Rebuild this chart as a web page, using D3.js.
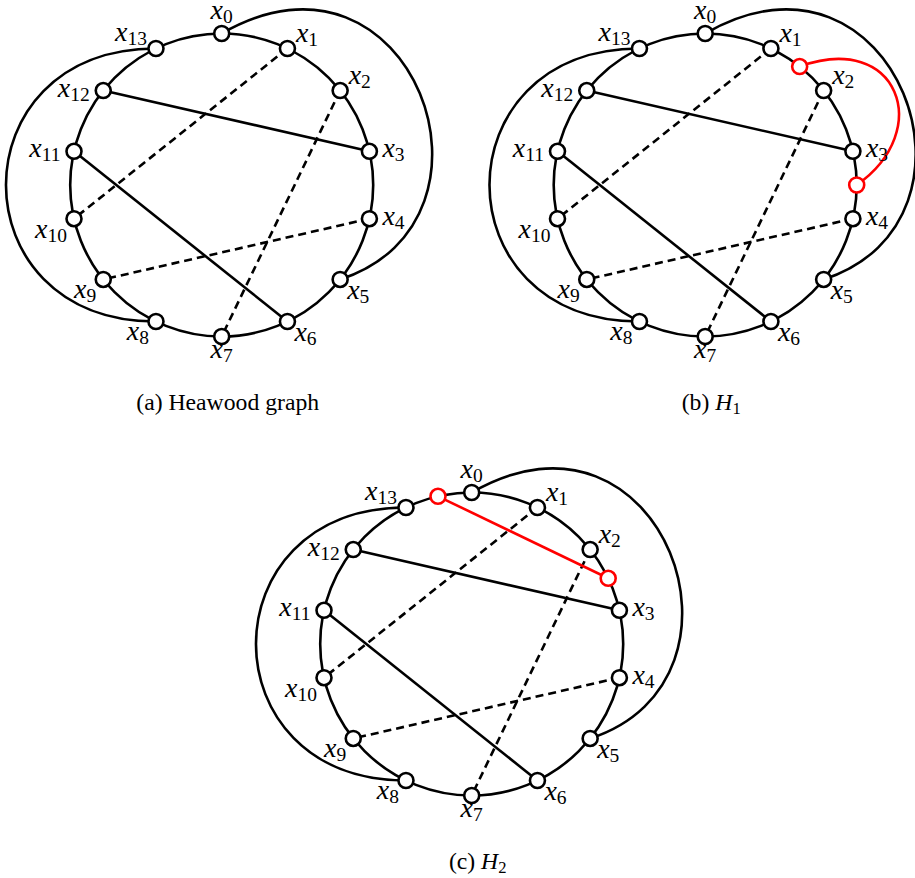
<!DOCTYPE html>
<html>
<head>
<meta charset="utf-8">
<script src="https://cdn.jsdelivr.net/npm/d3@7"></script>
<style>
  body { margin: 0; background: #fff; }
  svg { display: block; }
  text { font-family: "Liberation Serif", "Times New Roman", serif; }
</style>
</head>
<body>
<div id="chart"></div>
<script>
// graph data
var nodeNames = ["x0", "x1", "x2", "x3", "x4", "x5", "x6",
                 "x7", "x8", "x9", "x10", "x11", "x12", "x13"];
var labelSides = ["above", "above right", "above right", "right", "right",
                  "below right", "below right", "below", "below left",
                  "below left", "below left", "left", "left", "above left"];
var solidChords = [[12, 3], [11, 6]];
var dashedChords = [[1, 10], [2, 7], [4, 9]];
var outerEdges = [[0, 5], [13, 8]];

// one entry per panel
var captionPrefix = ["(a) ", "(b) ", "(c) "];
var captionMain = ["Heawood graph", "H", "H"];
var captionSub = ["", "1", "2"];
var extraNodes = [[], [1.5, 3.5], [13.5, 2.5]];
var extraCurved = [false, true, false];

var width = 915,
    height = 878;

var svg = d3.select("#chart").append("svg")
    .attr("width", width)
    .attr("height", height);

var centers = [[221.7, 185], [705.2, 185], [471.7, 644]],
    radius = 151.5,
    nodeR = 7.5,
    lineW = 2.6;

// node index -> angle in degrees, clockwise from the top
var angle = d3.scaleLinear()
    .domain([0, nodeNames.length])
    .range([-90, 270]);

// how the two outer edges and the red edge of H1 bend (tikz style out/in)
var bend = {
    "0-5": {out: 30, outLen: 1.45, "in": 18, inLen: 1.25},
    "13-8": {out: 180, outLen: 1.32, "in": 180, inLen: 1.32},
    red: {out: 20, outLen: 0.69, "in": 35, inLen: 0.63}
};

var anchorStyle = {
    "above":       {anchor: "middle", dx: 0, dy: -14.5},
    "above right": {anchor: "start", dx: 8.5, dy: -6.5},
    "right":       {anchor: "start", dx: 13, dy: 6},
    "below right": {anchor: "start", dx: 7, dy: 19.5},
    "below":       {anchor: "middle", dx: 0, dy: 21},
    "below left":  {anchor: "end", dx: -7, dy: 19},
    "left":        {anchor: "end", dx: -13.5, dy: 6},
    "above left":  {anchor: "end", dx: -9, dy: -8}
};

function rad(deg) { return deg * Math.PI / 180; }

function bentPath(p0, p3, b) {
    var c1 = [p0[0] + b.outLen * radius * Math.cos(rad(b.out)),
              p0[1] - b.outLen * radius * Math.sin(rad(b.out))],
        c2 = [p3[0] + b.inLen * radius * Math.cos(rad(b["in"])),
              p3[1] - b.inLen * radius * Math.sin(rad(b["in"]))];
    var p = d3.path();
    p.moveTo(p0[0], p0[1]);
    p.bezierCurveTo(c1[0], c1[1], c2[0], c2[1], p3[0], p3[1]);
    return p.toString();
}

centers.forEach(function(c, k) {
    var g = svg.append("g").attr("class", "panel");

    function pos(i) {
        var a = rad(angle(i));
        return [c[0] + radius * Math.cos(a), c[1] + radius * Math.sin(a)];
    }

    // outer edges
    g.selectAll("path.outer")
        .data(outerEdges)
        .enter().append("path")
        .attr("class", "outer")
        .attr("d", function(d) { return bentPath(pos(d[0]), pos(d[1]), bend[d[0] + "-" + d[1]]); })
        .attr("fill", "none")
        .attr("stroke", "#000")
        .attr("stroke-width", lineW);

    // chords
    g.selectAll("line.solid")
        .data(solidChords)
        .enter().append("line")
        .attr("class", "solid")
        .attr("x1", function(d) { return pos(d[0])[0]; })
        .attr("y1", function(d) { return pos(d[0])[1]; })
        .attr("x2", function(d) { return pos(d[1])[0]; })
        .attr("y2", function(d) { return pos(d[1])[1]; })
        .attr("stroke", "#000")
        .attr("stroke-width", lineW);

    g.selectAll("line.dashed")
        .data(dashedChords)
        .enter().append("line")
        .attr("class", "dashed")
        .attr("x1", function(d) { return pos(d[0])[0]; })
        .attr("y1", function(d) { return pos(d[0])[1]; })
        .attr("x2", function(d) { return pos(d[1])[0]; })
        .attr("y2", function(d) { return pos(d[1])[1]; })
        .attr("stroke", "#000")
        .attr("stroke-width", lineW)
        .attr("stroke-dasharray", "8,5");

    // the 14-cycle
    g.append("circle")
        .attr("cx", c[0])
        .attr("cy", c[1])
        .attr("r", radius)
        .attr("fill", "none")
        .attr("stroke", "#000")
        .attr("stroke-width", lineW);

    // red edge of H1 / H2
    var extra = extraNodes[k];
    if (extra.length === 2) {
        var p0 = pos(extra[0]),
            p1 = pos(extra[1]);
        if (extraCurved[k]) {
            g.append("path")
                .attr("d", bentPath(p0, p1, bend.red))
                .attr("fill", "none")
                .attr("stroke", "red")
                .attr("stroke-width", lineW);
        } else {
            g.append("line")
                .attr("x1", p0[0]).attr("y1", p0[1])
                .attr("x2", p1[0]).attr("y2", p1[1])
                .attr("stroke", "red")
                .attr("stroke-width", lineW);
        }
    }

    // vertices
    g.selectAll("circle.node")
        .data(nodeNames)
        .enter().append("circle")
        .attr("class", "node")
        .attr("cx", function(d, i) { return pos(i)[0]; })
        .attr("cy", function(d, i) { return pos(i)[1]; })
        .attr("r", nodeR)
        .attr("fill", "#fff")
        .attr("stroke", "#000")
        .attr("stroke-width", lineW);

    g.selectAll("circle.red")
        .data(extra)
        .enter().append("circle")
        .attr("class", "red")
        .attr("cx", function(d) { return pos(d)[0]; })
        .attr("cy", function(d) { return pos(d)[1]; })
        .attr("r", nodeR)
        .attr("fill", "#fff")
        .attr("stroke", "red")
        .attr("stroke-width", lineW);

    // vertex labels
    var label = g.selectAll("text.label")
        .data(nodeNames)
        .enter().append("text")
        .attr("class", "label")
        .attr("x", function(d, i) { return pos(i)[0] + anchorStyle[labelSides[i]].dx; })
        .attr("y", function(d, i) { return pos(i)[1] + anchorStyle[labelSides[i]].dy; })
        .attr("text-anchor", function(d, i) { return anchorStyle[labelSides[i]].anchor; })
        .attr("font-size", 28);

    label.append("tspan")
        .attr("font-style", "italic")
        .text(function(d) { return d.charAt(0); });

    label.append("tspan")
        .attr("font-size", 19.5)
        .attr("dy", 4)
        .text(function(d) { return d.slice(1); });

    // caption
    var cap = g.append("text")
        .attr("x", c[0] + 6)
        .attr("y", c[1] + 225)
        .attr("text-anchor", "middle")
        .attr("font-size", 23.7);

    cap.append("tspan").text(captionPrefix[k]);
    cap.append("tspan")
        .attr("font-style", k === 0 ? "normal" : "italic")
        .text(captionMain[k]);
    if (captionSub[k]) {
        cap.append("tspan")
            .attr("font-size", 16.6)
            .attr("dy", 3.5)
            .text(captionSub[k]);
    }
});
</script>
</body>
</html>
